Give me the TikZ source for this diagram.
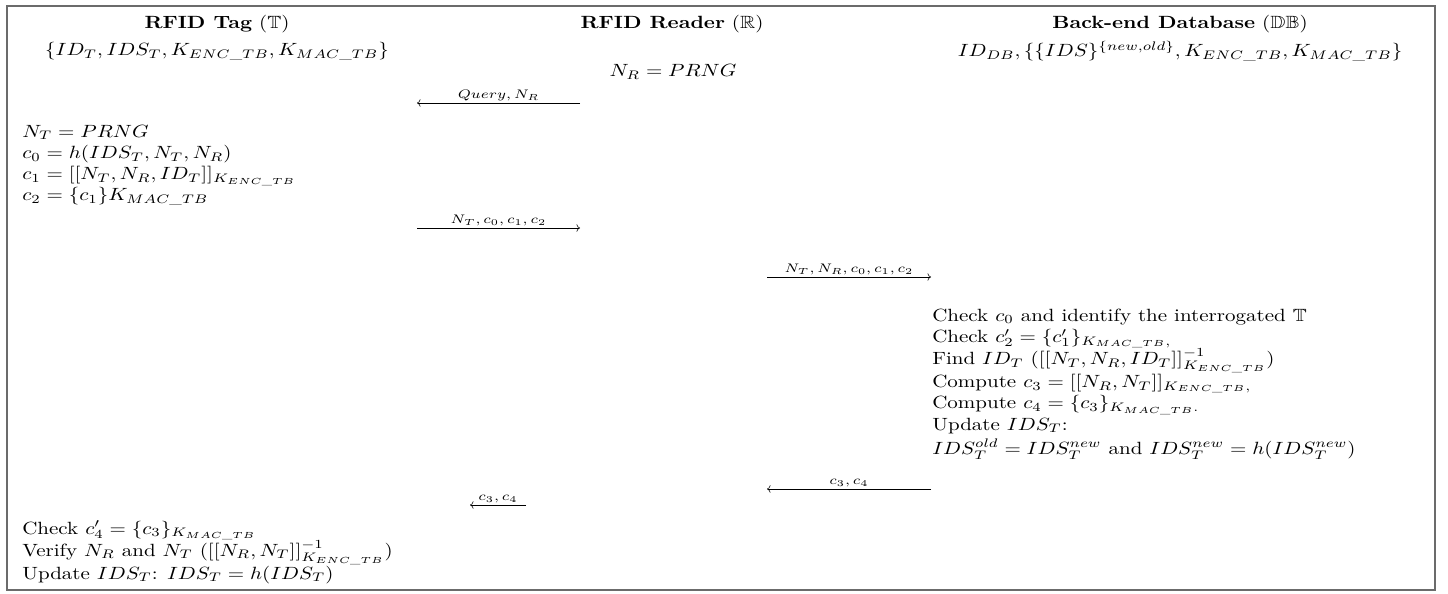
\documentclass[tikz,border=0pt]{standalone}
\usepackage{amsmath,amssymb,graphicx}
\usetikzlibrary{arrows.meta}
\definecolor{framegray}{gray}{0.42}
\newcommand{\stretchtxt}[1]{\scalebox{1.47}[1.24]{#1}}
\tikzset{
  msgarrow/.style = {-{Computer Modern Rightarrow}},
  msglbl/.style   = {inner sep=1pt, font=\scriptsize},
  headlbl/.style  = {inner sep=0pt},
  steplbl/.style  = {anchor=north west, inner sep=0pt}
}
\begin{document}
\begin{tikzpicture}[x=0.7pt, y=-0.7pt]
  \useasboundingbox (0,0) rectangle (1448,593);
  \draw[framegray, line width=1.1pt] (7,6) rectangle (1435,590);

  % parties and what they hold
  \node[headlbl] (tagT) at (217,24) {\stretchtxt{\textbf{RFID Tag} ($\mathbb{T}$)}};
  \node[headlbl] (tagK) at (217,51)
        {\stretchtxt{$\{ID_T, IDS_T, K_{ENC\_TB}, K_{MAC\_TB}\}$}};
  \node[headlbl] (rdrT) at (672,24) {\stretchtxt{\textbf{RFID Reader} ($\mathbb{R}$)}};
  \node[headlbl] (rdrN) at (673,72) {\stretchtxt{$N_R = PRNG$}};
  \node[headlbl] (dbT)  at (1180,24)
        {\stretchtxt{\textbf{Back-end Database} ($\mathbb{DB}$)}};
  \node[headlbl] (dbK)  at (1180,51)
        {\stretchtxt{$ID_{DB}, \{\{IDS\}^{\{new,old\}}, K_{ENC\_TB}, K_{MAC\_TB}\}$}};

  % computations
  \node[steplbl] (tagC) at (22,122)
        {\stretchtxt{\begin{tabular}{@{}l@{}}
          $N_T = PRNG$\\
          $c_0 = h(IDS_T, N_T, N_R)$\\
          $c_1 = [[N_T, N_R, ID_T]]_{K_{ENC\_TB}}$\\
          $c_2 = \{c_1\}K_{MAC\_TB}$
         \end{tabular}}};
  \node[steplbl] (dbC) at (932,306)
        {\stretchtxt{\begin{tabular}{@{}l@{}}
          Check $c_0$ and identify the interrogated $\mathbb{T}$\\
          Check $c_2' = \{c_1'\}_{K_{MAC\_TB},}$\\
          Find $ID_T$ ($[[N_T, N_R, ID_T]]^{-1}_{K_{ENC\_TB}}$)\\
          Compute $c_3 = [[N_R, N_T]]_{K_{ENC\_TB},}$\\
          Compute $c_4 = \{c_3\}_{K_{MAC\_TB}.}$\\
          Update $IDS_T$:\\[1.5pt]
          $IDS_T^{old} = IDS_T^{new}$ and $IDS_T^{new} = h(IDS_T^{new})$
         \end{tabular}}};
  \node[steplbl] (tagV) at (22,519)
        {\stretchtxt{\begin{tabular}{@{}l@{}}
          Check $c_4' = \{c_3\}_{K_{MAC\_TB}}$\\
          Verify $N_R$ and $N_T$ ($[[N_R, N_T]]^{-1}_{K_{ENC\_TB}}$)\\
          Update $IDS_T$: $IDS_T = h(IDS_T)$
         \end{tabular}}};

  % messages
  \coordinate (m1a) at (580,103);  \coordinate (m1b) at (417,103);
  \coordinate (m2a) at (417,228);  \coordinate (m2b) at (580,228);
  \coordinate (m3a) at (767,277);  \coordinate (m3b) at (931,277);
  \coordinate (m4a) at (931,489);  \coordinate (m4b) at (767,489);
  \coordinate (m5a) at (526,505);  \coordinate (m5b) at (470,505);

  \draw[msgarrow] (m1a) -- (m1b)
        node[midway, above, msglbl] {\stretchtxt{$Query,N_R$}};
  \draw[msgarrow] (m2a) -- (m2b)
        node[midway, above, msglbl] {\stretchtxt{$N_T,c_0,c_1,c_2$}};
  \draw[msgarrow] (m3a) -- (m3b)
        node[midway, above, msglbl] {\stretchtxt{$N_T,N_R,c_0,c_1,c_2$}};
  \draw[msgarrow] (m4a) -- (m4b)
        node[midway, above, msglbl] {\stretchtxt{$c_3,c_4$}};
  \draw[msgarrow] (m5a) -- (m5b)
        node[midway, above, msglbl] {\stretchtxt{$c_3,c_4$}};
\end{tikzpicture}
\end{document}
